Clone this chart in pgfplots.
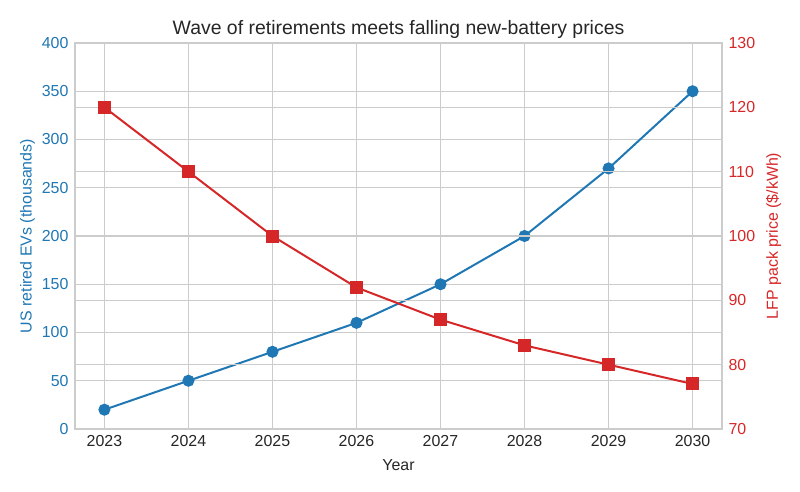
\documentclass[border=0pt]{standalone}
\usepackage{pgfplots}
\pgfplotsset{compat=1.18}
\usepackage{fontspec}
\setmainfont{Liberation Sans}
\definecolor{evblue}{HTML}{1F77B4}
\definecolor{lfpred}{HTML}{D62728}
\definecolor{gridgray}{HTML}{CCCCCC}
\definecolor{textdark}{HTML}{262626}

\begin{document}
\begin{tikzpicture}
\useasboundingbox (0,0) rectangle (800bp,492bp);
\pgfplotsset{
  twinbase/.style={
    at={(75bp,63bp)}, anchor=south west,
    width=647bp, height=386bp, scale only axis,
    xmin=2022.65, xmax=2030.35,
    axis line style={gridgray, line width=1.2bp},
    major grid style={gridgray, line width=1.2bp},
    tick style={draw=none},
    ticklabel style={font=\fontsize{16}{19}\selectfont},
    /pgf/number format/assume math mode=true,
    /pgf/number format/1000 sep={},
    label style={font=\fontsize{16}{19}\selectfont},
  }
}
% Left axis: retired EVs
\begin{axis}[twinbase,
  ymin=0, ymax=400, ytick={0,50,...,400},
  xtick={2023,...,2030},
  xmajorgrids, ymajorgrids,
  xticklabel style={textdark, yshift=-3bp},
  yticklabel style={evblue, xshift=-3bp},
  xlabel={Year}, xlabel style={textdark, yshift=-6bp},
  ylabel={US retired EVs (thousands)}, ylabel style={evblue},
  ylabel shift=0bp,
  title={Wave of retirements meets falling new-battery prices},
  title style={font=\fontsize{19.5}{23}\selectfont, textdark, yshift=-5bp},
]
\addplot[evblue, line width=2bp, mark=*, mark size=5bp,
  mark options={solid, fill=evblue, draw=evblue}]
  coordinates {(2023,20) (2024,50) (2025,80) (2026,110)
               (2027,150) (2028,200) (2029,270) (2030,350)};
\end{axis}
% Right axis: LFP pack price
\begin{axis}[twinbase,
  hide x axis,
  axis y line*=right,
  ymin=70, ymax=130, ytick={70,80,...,130},
  ymajorgrids,
  yticklabel style={lfpred, xshift=3bp},
  ylabel={LFP pack price (\$/kWh)}, ylabel style={lfpred},
  ylabel shift=4bp,
]
\addplot[lfpred, line width=2bp, mark=square*, mark size=5.5bp,
  mark options={solid, fill=lfpred, draw=lfpred}]
  coordinates {(2023,120) (2024,110) (2025,100) (2026,92)
               (2027,87) (2028,83) (2029,80) (2030,77)};
\end{axis}
\end{tikzpicture}
\end{document}
